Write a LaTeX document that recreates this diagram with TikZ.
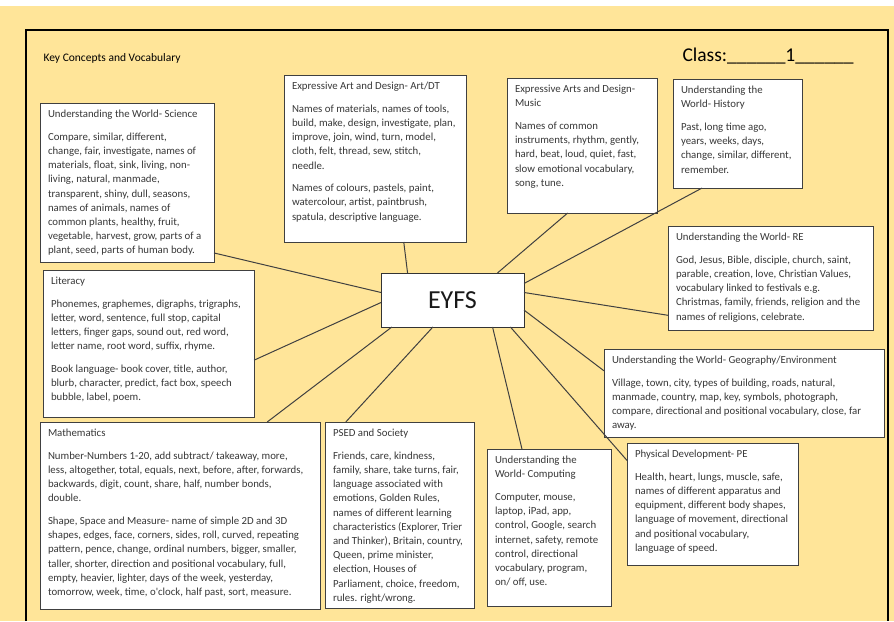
\documentclass[tikz,border=0pt]{standalone}
\usepackage{fontspec}
\usepackage{tikz}
\newfontfamily\calfont{Carlito}
\newcommand{\topicfont}{\calfont\fontsize{10.8}{14.2}\selectfont}
\newcommand{\topictext}[3]{\parbox[c][\dimexpr#2pt-14pt\relax][t]{\dimexpr#1pt-16pt\relax}{\raggedright #3}}
\definecolor{eyfsyellow}{RGB}{255,229,153}

\begin{document}
\begin{tikzpicture}[x=1pt,y=-1pt,
  topic/.style={draw=black!75,line width=1pt,fill=white,anchor=north west,inner xsep=8pt,inner ysep=7pt,outer sep=0pt,text=black!78,font=\topicfont},
  spoke/.style={draw=black!75,line width=1pt}]

\fill[white] (0,0) rectangle (894,621);
\fill[eyfsyellow] (0,6) rectangle (894,621);
\useasboundingbox (0,0) rectangle (894,621);
\draw[line width=2pt] (26,621) -- (26,30) -- (888,30) -- (888,621);

\node[anchor=west,font=\calfont\fontsize{11.5}{13}\selectfont] (heading) at (40,58) {Key Concepts and Vocabulary};
\node[anchor=west,font=\calfont\fontsize{19.5}{22}\selectfont] (class) at (679,56) {Class:\_\_\_\_\_\_1\_\_\_\_\_\_};

\node[draw=black!80,line width=1pt,fill=white,minimum width=143pt,minimum height=54pt,inner sep=0pt,outer sep=0pt,text=black!90,font=\calfont\fontsize{26}{30}\selectfont] (eyfs) at (452.5,300) {EYFS};

\node[topic] (sci) at (40,103) {\topictext{174}{159}{Understanding the World- Science\\[8.5pt]
Compare, similar, different,\\
change, fair, investigate, names of\\
materials,  float, sink, living, non-\\
living,  natural,  manmade,\\
transparent, shiny, dull, seasons,\\
names of animals,  names of\\
common  plants, healthy, fruit,\\
vegetable, harvest, grow,  parts of a\\
plant, seed, parts of human body.}};

\node[topic] (art) at (284,75) {\topictext{182}{167}{Expressive Art and Design- Art/DT\\[8.5pt]
Names of materials, names of tools,\\
build, make, design, investigate, plan,\\
improve, join, wind, turn, model,\\
cloth, felt, thread, sew, stitch,\\
needle.\\[8.5pt]
Names of colours, pastels, paint,\\
watercolour, artist, paintbrush,\\
spatula, descriptive language.}};

\node[topic] (music) at (507,78) {\topictext{150}{135}{Expressive Arts and Design-\\
Music\\[8.5pt]
Names of common\\
instruments, rhythm, gently,\\
hard, beat, loud, quiet, fast,\\
slow emotional vocabulary,\\
song, tune.}};

\node[topic] (history) at (673,79) {\topictext{129}{109}{Understanding the\\
World- History\\[8.5pt]
Past, long time ago,\\
years, weeks, days,\\
change, similar, different,\\
remember.}};

\node[topic] (re) at (668,226) {\topictext{205}{104}{Understanding the World- RE\\[8.5pt]
God, Jesus, Bible, disciple, church,  saint,\\
parable, creation, love, Christian Values,\\
vocabulary linked to festivals e.g.\\
Christmas, family, friends, religion and the\\
names of religions, celebrate.}};

\node[topic] (geo) at (604,349) {\topictext{280}{88}{Understanding the World- Geography/Environment\\[8.5pt]
Village, town, city, types of building, roads, natural,\\
manmade, country, map, key, symbols, photograph,\\
compare, directional and positional vocabulary, close, far\\
away.}};

\node[topic] (lit) at (43,270) {\topictext{211}{147}{Literacy\\[8.5pt]
Phonemes, graphemes, digraphs, trigraphs,\\
letter, word, sentence, full stop, capital\\
letters, finger gaps, sound out, red word,\\
letter name, root word, suffix,  rhyme.\\[8.5pt]
Book language- book cover, title, author,\\
blurb, character, predict, fact box, speech\\
bubble, label, poem.}};

\node[topic] (maths) at (40,422) {\topictext{280}{187}{Mathematics\\[8.5pt]
Number-Numbers 1-20, add subtract/ takeaway, more,\\
less, altogether, total, equals, next, before, after, forwards,\\
backwards,  digit, count, share, half,  number bonds,\\
double.\\[8.5pt]
Shape, Space and Measure- name of simple 2D and 3D\\
shapes, edges, face, corners, sides, roll, curved, repeating\\
pattern, pence, change, ordinal numbers, bigger, smaller,\\
taller, shorter, direction and positional vocabulary, full,\\
empty, heavier, lighter, days of the week, yesterday,\\
tomorrow, week, time, o'clock, half past, sort, measure.}};

\node[topic] (psed) at (325,422) {\topictext{149}{186}{PSED and Society\\[8.5pt]
Friends, care, kindness,\\
family, share, take turns, fair,\\
language associated with\\
emotions, Golden Rules,\\
names of different learning\\
characteristics (Explorer, Trier\\
and Thinker), Britain, country,\\
Queen, prime minister,\\
election, Houses of\\
Parliament, choice, freedom,\\
rules. right/wrong.}};

\node[topic] (comp) at (487,449) {\topictext{124}{157}{Understanding the\\
World- Computing\\[8.5pt]
Computer, mouse,\\
laptop, iPad, app,\\
control, Google, search\\
internet, safety, remote\\
control, directional\\
vocabulary, program,\\
on/ off, use.}};

\node[topic] (pe) at (627,443) {\topictext{171}{122}{Physical Development- PE\\[8.5pt]
Health, heart, lungs, muscle, safe,\\
names of different apparatus and\\
equipment, different body shapes,\\
language of movement, directional\\
and positional vocabulary,\\
language of speed.}};

\draw[spoke] (eyfs.174) -- (sci.-39);
\draw[spoke] (eyfs.149) -- (art.-71);
\draw[spoke] (eyfs.31) -- (music.258);
\draw[spoke] (eyfs.13) -- (history.237);
\draw[spoke] (eyfs.6) -- (re.200);
\draw[spoke] (eyfs.-8) -- (geo.171);
\draw[spoke] (eyfs.-25) -- (pe.153);
\draw[spoke] (eyfs.-34) -- (comp.109);
\draw[spoke] (eyfs.-126) -- (psed.120);
\draw[spoke] (eyfs.-156) -- (maths.47);
\draw[spoke] (eyfs.-178) -- (lit.-9);

\end{tikzpicture}
\end{document}
